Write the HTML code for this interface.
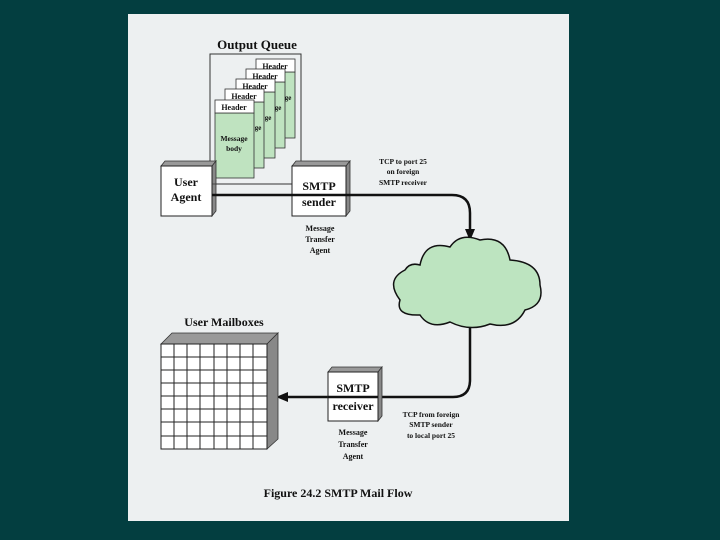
<!DOCTYPE html>
<html><head><meta charset="utf-8"><style>
html,body{margin:0;padding:0;background:#033e40;}
svg{display:block}
text{font-family:"Liberation Serif",serif;font-weight:bold;fill:#111}
</style></head><body>
<svg width="720" height="540" viewBox="0 0 720 540" xmlns="http://www.w3.org/2000/svg">
<rect x="0" y="0" width="720" height="540" fill="#033e40"/>
<rect x="128" y="14" width="441" height="507" fill="#edf0f1"/>
<text x="257" y="49" font-size="13" text-anchor="middle">Output Queue</text>
<rect x="210" y="54" width="91" height="130" fill="none" stroke="#333" stroke-width="1"/>
<g stroke="#333" stroke-width="0.8">
<rect x="256" y="72" width="39" height="66" fill="#bfe3c0"/><rect x="256" y="59" width="39" height="13" fill="#fff"/>
<rect x="246" y="82" width="39" height="66" fill="#bfe3c0"/><rect x="246" y="69" width="39" height="13" fill="#fff"/>
<rect x="236" y="92" width="39" height="66" fill="#bfe3c0"/><rect x="236" y="79" width="39" height="13" fill="#fff"/>
<rect x="225" y="102" width="39" height="66" fill="#bfe3c0"/><rect x="225" y="89" width="39" height="13" fill="#fff"/>
<rect x="215" y="113" width="39" height="65" fill="#bfe3c0"/><rect x="215" y="100" width="39" height="13" fill="#fff"/>
</g>
<g font-size="8" text-anchor="middle">
<text x="275" y="69" font-weight="normal">Header</text>
<text x="265" y="79">Header</text>
<text x="255" y="89">Header</text>
<text x="244" y="99">Header</text>
<text x="234" y="110" font-weight="normal">Header</text>
<text x="288" y="100" font-size="7">ge</text>
<text x="278" y="110" font-size="7">ge</text>
<text x="268" y="120" font-size="7">ge</text>
<text x="258" y="130" font-size="7">ge</text>
<text x="234" y="141" font-size="7.5">Message</text>
<text x="234" y="151" font-size="7.5" font-weight="normal">body</text>
</g>
<!-- user agent -->
<polygon points="161,166 165,161 216,161 212,166" fill="#999" stroke="#333" stroke-width="0.8"/>
<polygon points="212,166 216,161 216,211 212,216" fill="#888" stroke="#333" stroke-width="0.8"/>
<rect x="161" y="166" width="51" height="50" fill="#fff" stroke="#222" stroke-width="1"/>
<text x="186" y="186" font-size="12" font-weight="normal">
<tspan x="186" text-anchor="middle">User</tspan><tspan x="186" dy="15" text-anchor="middle">Agent</tspan></text>
<!-- smtp sender -->
<polygon points="292,166 296,161 350,161 346,166" fill="#999" stroke="#333" stroke-width="0.8"/>
<polygon points="346,166 350,161 350,211 346,216" fill="#888" stroke="#333" stroke-width="0.8"/>
<rect x="292" y="166" width="54" height="50" fill="#fff" stroke="#222" stroke-width="1"/>
<text x="319" y="190" font-size="12" font-weight="normal" text-anchor="middle">SMTP</text>
<text x="319" y="206" font-size="12" font-weight="normal" text-anchor="middle">sender</text>
<line x1="212" y1="184" x2="292" y2="184" stroke="#333" stroke-width="0.8"/>
<g font-size="8" text-anchor="middle">
<text x="320" y="231">Message</text><text x="320" y="242">Transfer</text><text x="320" y="253">Agent</text>
<text x="403" y="164" font-size="7.5" font-weight="normal">TCP to port 25</text>
<text x="403" y="174" font-size="7.5" font-weight="normal">on foreign</text>
<text x="403" y="185" font-size="7.5" font-weight="normal">SMTP receiver</text>
</g>
<path d="M212,195 H452 Q470,195 470,213 V232" fill="none" stroke="#111" stroke-width="2.5"/>
<polygon points="465,229 475,229 470,241" fill="#111"/>
<!-- cloud -->
<path d="M420,265 Q425,240 450,247 Q460,232 480,240 Q505,235 510,260 Q540,262 540,285 Q545,305 525,310 Q515,330 490,324 Q470,332 450,322 Q430,330 420,315 Q395,316 400,300 Q385,280 405,270 Q410,262 420,265 Z" fill="#bde4c0" stroke="#111" stroke-width="1.5"/>
<path d="M470,327 V380 Q470,397 453,397 H284" fill="none" stroke="#111" stroke-width="2.5"/>
<polygon points="276,397 288,392 288,402" fill="#111"/>
<!-- smtp receiver -->
<polygon points="328,372 332,367 382,367 378,372" fill="#999" stroke="#333" stroke-width="0.8"/>
<polygon points="378,372 382,367 382,416 378,421" fill="#888" stroke="#333" stroke-width="0.8"/>
<rect x="328" y="372" width="50" height="49" fill="#fff" stroke="#222" stroke-width="1"/>
<rect x="329" y="393" width="48" height="7" fill="#fff"/>
<line x1="328" y1="397" x2="378" y2="397" stroke="#111" stroke-width="2.5"/>
<text x="353" y="392" font-size="12" font-weight="normal" text-anchor="middle">SMTP</text>
<text x="353" y="410" font-size="12" font-weight="normal" text-anchor="middle">receiver</text>
<g font-size="8" text-anchor="middle">
<text x="353" y="435">Message</text><text x="353" y="447">Transfer</text><text x="353" y="459">Agent</text>
<text x="431" y="417" font-size="7.5" font-weight="normal">TCP from foreign</text>
<text x="431" y="427" font-size="7.5" font-weight="normal">SMTP sender</text>
<text x="431" y="438" font-size="7.5" font-weight="normal">to local port 25</text>
</g>
<!-- mailboxes -->
<text x="224" y="326" font-size="12" text-anchor="middle">User Mailboxes</text>
<polygon points="161,344 172,333 278,333 267,344" fill="#999" stroke="#333" stroke-width="0.8"/>
<polygon points="267,344 278,333 278,439 267,449" fill="#888" stroke="#333" stroke-width="0.8"/>
<rect x="161" y="344" width="106" height="105" fill="#fff" stroke="#222" stroke-width="1"/>
<g stroke="#222" stroke-width="1">
<line x1="174" y1="344" x2="174" y2="449"/><line x1="187" y1="344" x2="187" y2="449"/><line x1="200" y1="344" x2="200" y2="449"/><line x1="214" y1="344" x2="214" y2="449"/><line x1="227" y1="344" x2="227" y2="449"/><line x1="240" y1="344" x2="240" y2="449"/><line x1="253" y1="344" x2="253" y2="449"/>
<line x1="161" y1="357" x2="267" y2="357"/><line x1="161" y1="370" x2="267" y2="370"/><line x1="161" y1="383" x2="267" y2="383"/><line x1="161" y1="396" x2="267" y2="396"/><line x1="161" y1="409" x2="267" y2="409"/><line x1="161" y1="422" x2="267" y2="422"/><line x1="161" y1="436" x2="267" y2="436"/>
</g>
<text x="338" y="497" font-size="12" text-anchor="middle">Figure 24.2  SMTP Mail Flow</text>
</svg>
</body></html>
